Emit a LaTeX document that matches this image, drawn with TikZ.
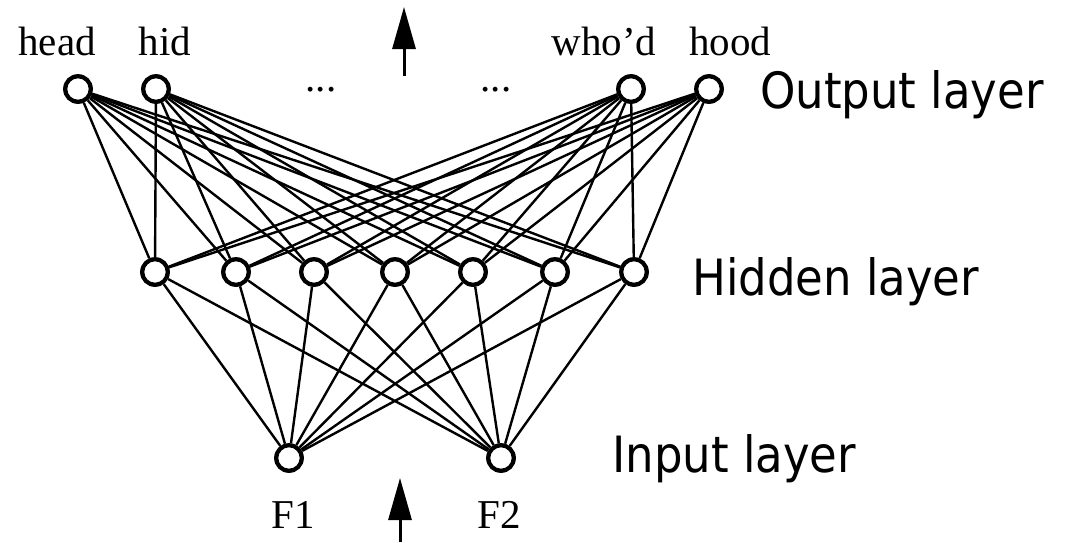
\documentclass[tikz,border=0pt]{standalone}
\usepackage{fontspec}
\setmainfont{Liberation Serif}
\newfontfamily\tah[FakeStretch=0.9]{DejaVu Sans}
\usetikzlibrary{arrows.meta}
\begin{document}
\begin{tikzpicture}[x=1pt,y=-1pt,
  neuron/.style={circle,draw,fill=white,minimum size=27pt,inner sep=0pt,line width=2.8pt},
  edge/.style={line width=2.4pt},
  wlabel/.style={anchor=base,inner sep=0pt,font=\fontsize{41}{43}\selectfont},
  layerlabel/.style={anchor=base west,inner sep=0pt,font=\tah\fontsize{50}{52}\selectfont},
  flow/.style={line width=3pt,-{Triangle[length=42pt,width=23pt]}}]
\useasboundingbox (0,0) rectangle (1073,542);
% output layer
\node[neuron] (o1) at (78,89) {};
\node[neuron] (o2) at (156,89) {};
\node[neuron] (o3) at (631,89) {};
\node[neuron] (o4) at (709,89) {};
% hidden layer
\foreach \i/\x in {1/155,2/236,3/314,4/395,5/473,6/555,7/634}
  \node[neuron] (h\i) at (\x,272) {};
% input layer
\node[neuron] (i1) at (289,458) {};
\node[neuron] (i2) at (501,458) {};
% connections
\foreach \o in {1,...,4}
  \foreach \h in {1,...,7}
    \draw[edge] (o\o) -- (h\h);
\foreach \h in {1,...,7}
  \foreach \n in {1,2}
    \draw[edge] (h\h) -- (i\n);
% redraw circles on top
\foreach \n in {o1,o2,o3,o4,h1,h2,h3,h4,h5,h6,h7,i1,i2}
  \draw[line width=2.8pt,fill=white] (\n.center) circle (12.1pt);
% word labels
\node[wlabel] (lhead) at (57,55) {head};
\node[wlabel] (lhid) at (165,55) {hid};
\node[wlabel] (lwho) at (604,55) {who'd};
\node[wlabel] (lhood) at (730,55) {hood};
\node[wlabel] (d1) at (321,91) {...};
\node[wlabel] (d2) at (496,91) {...};
\node[wlabel] (lf1) at (293,528) {F1};
\node[wlabel] (lf2) at (499,528) {F2};
% arrows
\coordinate (ta) at (404,76);
\coordinate (tb) at (404,7);
\draw[flow] (ta) -- (tb);
\coordinate (ba) at (400,542);
\coordinate (bb) at (400,478);
\draw[flow] (ba) -- (bb);
% layer labels
\node[layerlabel] (lout) at (760,108) {Output layer};
\node[layerlabel] (lhidden) at (692,295) {Hidden layer};
\node[layerlabel] (linput) at (612,472) {Input layer};
\end{tikzpicture}
\end{document}
